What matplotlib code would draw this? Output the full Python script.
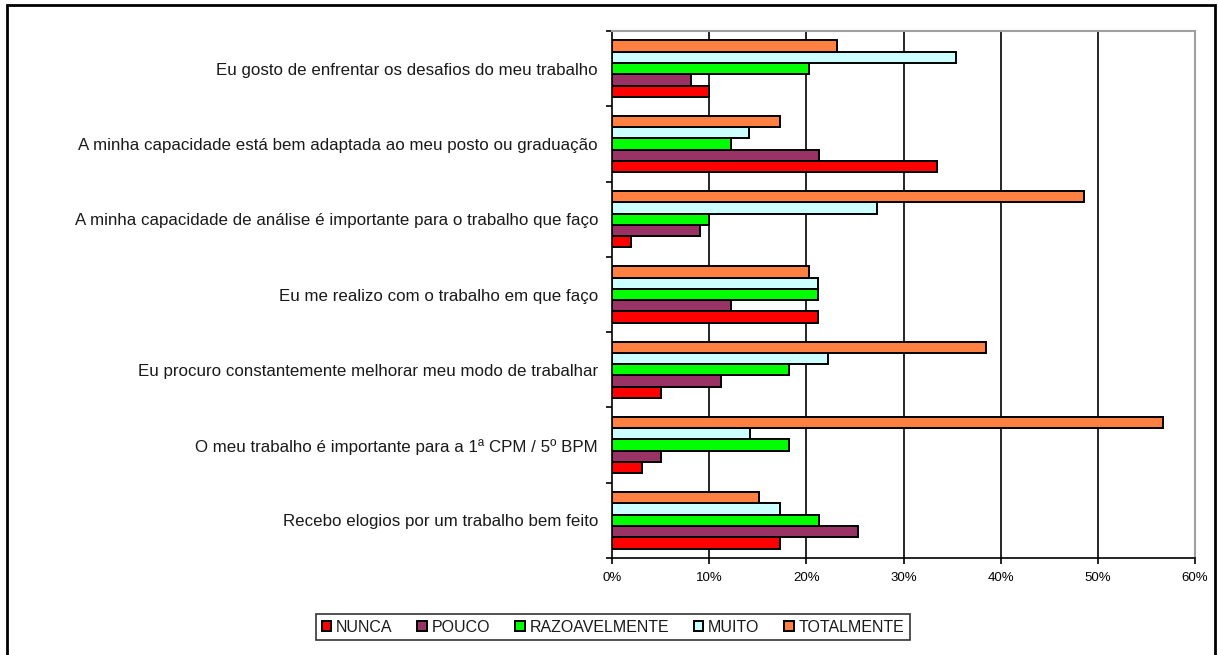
import numpy as np
import matplotlib
matplotlib.use("Agg")
import matplotlib.pyplot as plt
from matplotlib.patches import Rectangle
from matplotlib.ticker import FixedLocator, FuncFormatter

plt.rcParams['font.family'] = ['Liberation Sans', 'DejaVu Sans']

# afirmações, de cima para baixo
afirmacoes = [
    "Eu gosto de enfrentar os desafios do meu trabalho",
    "A minha capacidade está bem adaptada ao meu posto ou graduação",
    "A minha capacidade de análise é importante para o trabalho que faço",
    "Eu me realizo com o trabalho em que faço",
    "Eu procuro constantemente melhorar meu modo de trabalhar",
    "O meu trabalho é importante para a 1ª CPM / 5º BPM",
    "Recebo elogios por um trabalho bem feito",
]

# percentuais por resposta (mesma ordem das afirmações)
nunca = [10.0, 33.4, 2.0, 21.2, 5.0, 3.1, 17.3]
pouco = [8.1, 21.3, 9.1, 12.2, 11.2, 5.0, 25.3]
razoavelmente = [20.3, 12.2, 10.0, 21.2, 18.2, 18.2, 21.3]
muito = [35.4, 14.1, 27.3, 21.2, 22.2, 14.2, 17.3]
totalmente = [23.2, 17.3, 48.6, 20.3, 38.5, 56.7, 15.1]

respostas = ["NUNCA", "POUCO", "RAZOAVELMENTE", "MUITO", "TOTALMENTE"]
series = [nunca, pouco, razoavelmente, muito, totalmente]
cores = ["#FF0000", "#993366", "#00FF00", "#CCFFFF", "#FF8040"]

fig = plt.figure(figsize=(12.19, 6.55), dpi=100)
ax = fig.add_axes([612 / 1219, 1 - 558 / 655, (1195 - 612) / 1219, (558 - 31) / 655])

n = len(afirmacoes)
y = np.arange(n)[::-1]  # primeira afirmação no topo
altura = 0.15
barras = []
for j, (valores, cor) in enumerate(zip(series, cores)):
    b = ax.barh(y + (j - 2) * altura, valores, height=altura, color=cor,
                edgecolor="black", linewidth=1.4, zorder=3, label=respostas[j])
    barras.append(b)

ax.set_xlim(0, 60)
ax.set_ylim(-0.5, n - 0.5)

# grade vertical
for v in range(10, 60, 10):
    ax.axvline(v, color="black", linewidth=1.2, zorder=1)

ax.set_xticks(np.arange(0, 61, 10))
ax.xaxis.set_major_formatter(FuncFormatter(lambda v, p: "%d%%" % v))
ax.tick_params(axis="x", length=4, width=1.2, pad=6, labelsize=9.5, direction="out")

ax.set_yticks(y)
ax.set_yticklabels(afirmacoes, color="#1a1a1a")
ax.yaxis.set_minor_locator(FixedLocator(np.arange(-0.5, n, 1.0)))
ax.tick_params(axis="y", which="major", length=0, pad=10, labelsize=12.2)
ax.tick_params(axis="y", which="minor", length=4, width=1.2, direction="out")

for lado in ["left", "bottom"]:
    ax.spines[lado].set_color("black")
    ax.spines[lado].set_linewidth(1.2)
for lado in ["top", "right"]:
    ax.spines[lado].set_color("#A0A0A0")
    ax.spines[lado].set_linewidth(1.5)

leg = fig.legend(handles=barras, labels=respostas, loc="center",
                 bbox_to_anchor=(613 / 1219, 1 - 627 / 655), ncol=5,
                 fontsize=11.5, frameon=True, fancybox=False,
                 handlelength=0.6, handleheight=0.6, handletextpad=0.3,
                 columnspacing=1.55, borderpad=0.35)
leg.get_frame().set_edgecolor("black")
leg.get_frame().set_linewidth(1.2)
for t in leg.get_texts():
    t.set_color("#1a1a1a")

# moldura externa do gráfico
fig.patches.append(Rectangle((7 / 1219, -0.05), (1215 - 7) / 1219, 1.05 - 5 / 655,
                             transform=fig.transFigure, fill=False,
                             edgecolor="black", linewidth=2))

fig.savefig("out.png", dpi=100)
